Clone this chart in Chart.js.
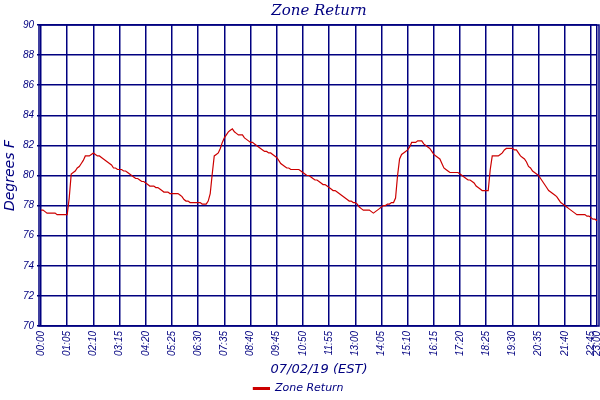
<!DOCTYPE html>
<html>
<head>
<meta charset="utf-8">
<script src="https://cdn.jsdelivr.net/npm/chart.js@4/dist/chart.umd.min.js"></script>
<style>
  html, body { margin: 0; padding: 0; background: #fff; }
  #wrap { width: 600px; height: 400px; }
</style>
</head>
<body>
<div id="wrap"><canvas id="myChart"></canvas></div>
<script>
// readings every 5 minutes, 00:00 .. 23:00
const startMinute = 0;
const stepMinutes = 5;

const zoneReturn = [
  77.7, 77.7, 77.6, 77.5, 77.5, 77.5, 77.5, 77.5, 77.4, 77.4,
  77.4, 77.4, 77.4, 77.4, 78.5, 80.1, 80.2, 80.3, 80.5, 80.6,
  80.8, 81.0, 81.3, 81.3, 81.3, 81.4, 81.5, 81.4, 81.3, 81.3,
  81.2, 81.1, 81.0, 80.9, 80.8, 80.7, 80.5, 80.5, 80.4, 80.4,
  80.4, 80.3, 80.3, 80.2, 80.1, 80.0, 79.9, 79.8, 79.8, 79.7,
  79.6, 79.6, 79.5, 79.4, 79.3, 79.3, 79.3, 79.2, 79.2, 79.1,
  79.0, 78.9, 78.9, 78.9, 78.8, 78.8, 78.8, 78.8, 78.8, 78.7,
  78.6, 78.4, 78.3, 78.3, 78.2, 78.2, 78.2, 78.2, 78.2, 78.2,
  78.1, 78.1, 78.1, 78.3, 78.8, 80.1, 81.3, 81.4, 81.5, 81.8,
  82.2, 82.5, 82.7, 82.9, 83.0, 83.1, 82.9, 82.8, 82.7, 82.7,
  82.7, 82.5, 82.4, 82.3, 82.2, 82.2, 82.1, 82.0, 81.9, 81.8,
  81.7, 81.6, 81.6, 81.5, 81.5, 81.4, 81.3, 81.2, 81.0, 80.8,
  80.7, 80.6, 80.5, 80.5, 80.4, 80.4, 80.4, 80.4, 80.4, 80.3,
  80.2, 80.1, 80.0, 80.0, 79.9, 79.8, 79.7, 79.7, 79.6, 79.5,
  79.4, 79.4, 79.3, 79.2, 79.1, 79.0, 79.0, 78.9, 78.8, 78.7,
  78.6, 78.5, 78.4, 78.3, 78.3, 78.2, 78.2, 78.1, 77.9, 77.8,
  77.7, 77.7, 77.7, 77.7, 77.6, 77.5, 77.6, 77.7, 77.8, 77.9,
  78.0, 78.0, 78.1, 78.1, 78.2, 78.2, 78.5, 80.0, 81.1, 81.4,
  81.5, 81.6, 81.7, 81.9, 82.2, 82.2, 82.2, 82.3, 82.3, 82.3,
  82.1, 82.0, 81.9, 81.8, 81.6, 81.4, 81.3, 81.2, 81.1, 80.8,
  80.5, 80.4, 80.3, 80.2, 80.2, 80.2, 80.2, 80.2, 80.1, 80.0,
  79.9, 79.8, 79.7, 79.7, 79.6, 79.5, 79.3, 79.2, 79.1, 79.0,
  79.0, 79.0, 79.0, 80.4, 81.3, 81.3, 81.3, 81.3, 81.4, 81.5,
  81.7, 81.8, 81.8, 81.8, 81.8, 81.7, 81.7, 81.5, 81.3, 81.2,
  81.1, 80.9, 80.6, 80.5, 80.3, 80.2, 80.1, 80.0, 79.8, 79.6,
  79.4, 79.2, 79.0, 78.9, 78.8, 78.7, 78.6, 78.4, 78.2, 78.1,
  78.0, 77.9, 77.8, 77.7, 77.6, 77.5, 77.4, 77.4, 77.4, 77.4,
  77.4, 77.3, 77.3, 77.2, 77.1, 77.1, 77.0
];

// labels shown under the x axis
const tickLabels = [
  "00:00", "01:05", "02:10", "03:15", "04:20", "05:25", "06:30", "07:35",
  "08:40", "09:45", "10:50", "11:55", "13:00", "14:05", "15:10", "16:15",
  "17:20", "18:25", "19:30", "20:35", "21:40", "22:45", "23:00"
];

const yMin = 70;
const yMax = 90;
const yStep = 2;

const navy = "#000080";
const red = "#cc0000";

// time of day for each reading
const pad2 = (n) => String(n).padStart(2, "0");
const times = zoneReturn.map((v, i) => {
  const m = startMinute + i * stepMinutes;
  return pad2(Math.floor(m / 60)) + ":" + pad2(m % 60);
});

// frame drawn a little outside the plot, gives the double edge on left and right
const framePlugin = {
  id: "frame",
  afterDraw(chart) {
    const a = chart.chartArea;
    const c = chart.ctx;
    c.save();
    c.strokeStyle = navy;
    c.lineWidth = 1.5;
    c.strokeRect(a.left - 2, a.top, a.right - a.left + 4, a.bottom - a.top);
    c.restore();
  }
};

const config = {
  type: "line",
  data: {
    labels: times,
    datasets: [{
      label: "Zone Return",
      data: zoneReturn,
      borderColor: red,
      backgroundColor: red,
      borderWidth: 1.2,
      pointRadius: 0,
      tension: 0
    }]
  },
  options: {
    responsive: false,
    animation: false,
    layout: { padding: { left: 0, right: 3, top: 0, bottom: -4 } },
    plugins: {
      title: {
        display: true,
        fullSize: false,
        text: "Zone Return",
        color: navy,
        font: { family: "DejaVu Serif", size: 15, style: "italic", weight: "normal" },
        padding: { top: 2, bottom: 5 }
      },
      legend: {
        position: "bottom",
        labels: {
          color: navy,
          boxWidth: 16,
          boxHeight: 2,
          padding: 5,
          font: { family: "DejaVu Sans", size: 11, style: "italic" }
        }
      },
      tooltip: { enabled: false }
    },
    scales: {
      x: {
        afterFit: (s) => {
          s.height = 52;
          s.paddingLeft = 0;
          s.paddingRight = 0;
        },
        grid: { color: navy, lineWidth: 1.5, drawTicks: false },
        border: { display: false },
        ticks: {
          autoSkip: false,
          minRotation: 90,
          maxRotation: 90,
          padding: 5,
          color: navy,
          font: { family: "Liberation Sans", size: 10, style: "italic" },
          callback: function (val) {
            const lab = this.getLabelForValue(val);
            return tickLabels.includes(lab) ? lab : null;
          }
        },
        title: {
          display: true,
          text: "07/02/19 (EST)",
          color: navy,
          font: { family: "DejaVu Sans", size: 13, style: "italic" },
          padding: { top: 0, bottom: 1 }
        }
      },
      y: {
        min: yMin,
        max: yMax,
        afterFit: (s) => { s.width = 41; },
        grid: { color: navy, lineWidth: 1.5, tickLength: 4 },
        border: { display: false },
        ticks: {
          stepSize: yStep,
          padding: 3,
          color: navy,
          font: { family: "Liberation Sans", size: 10, style: "italic" }
        },
        title: {
          display: true,
          text: "Degrees F",
          color: navy,
          font: { family: "DejaVu Sans", size: 14, style: "italic" },
          padding: { top: 2, bottom: 0 }
        }
      }
    }
  },
  plugins: [framePlugin]
};

const ctx = document.getElementById("myChart");
ctx.width = 600;
ctx.height = 400;
const myChart = new Chart(ctx, config);
</script>
</body>
</html>
